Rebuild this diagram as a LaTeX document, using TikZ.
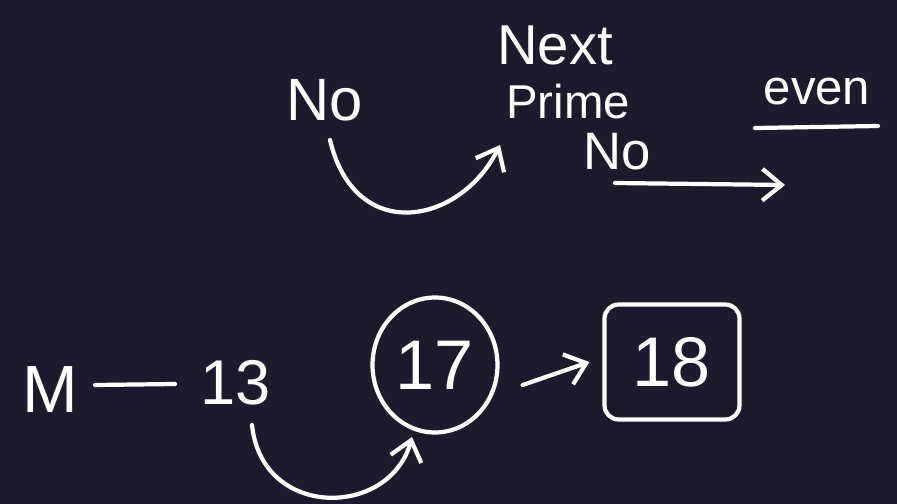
\documentclass[tikz,border=0pt]{standalone}
\usepackage{fontspec}
\setmainfont{Liberation Sans}
\usetikzlibrary{arrows.meta,shapes.geometric}
\definecolor{board}{RGB}{30,26,46}
\begin{document}
\begin{tikzpicture}[x=0.02cm,y=-0.02cm,
                    chalk/.style={white,line width=2.4pt,line cap=round},
                    word/.style={text=white,inner sep=0pt,font=\fontsize{34}{38}\selectfont},
                    tip/.style={-{Straight Barb[length=11pt,width=18pt]}}
                   ]
  \fill[board] (0,0) rectangle (897,504);
  \useasboundingbox (0,0) rectangle (897,504);
  % top row
  \node[word] (no) at (325,100) {No};
  \node[word,font=\fontsize{32}{36}\selectfont] (next) at (555,45) {Next};
  \node[word,font=\fontsize{27}{30}\selectfont] (prime) at (568,102) {Prime};
  \node[word,font=\fontsize{30}{34}\selectfont] (no2) at (617,152) {No};
  \node[word,font=\fontsize{28}{32}\selectfont] (even) at (817,92) {even};
  \coordinate (a1) at (330,140);
  \coordinate (a2) at (500,145);
  \coordinate (r1) at (615,183);
  \coordinate (r2) at (785,185);
  \draw[chalk,tip] (a1) .. controls (355,245) and (460,225) .. (a2);
  \draw[chalk,tip] (r1) -- (r2);
  \draw[chalk] (755,128) -- (878,126);
  % bottom row
  \node[word,font=\fontsize{38}{42}\selectfont] (m) at (50,390) {M};
  \node[word,font=\fontsize{36}{40}\selectfont] (n13) at (236,383) {13};
  \node[word,font=\fontsize{40}{44}\selectfont,draw=white,line width=2.4pt,ellipse,
        minimum width=2.5cm,minimum height=2.7cm] (c17) at (435,365) {17};
  \node[word,font=\fontsize{40}{44}\selectfont,draw=white,line width=2.4pt,rounded corners=8pt,
        minimum width=2.7cm,minimum height=2.3cm] (b18) at (672,362) {18};
  \coordinate (d1) at (95,385);
  \coordinate (d2) at (175,384);
  \draw[chalk] (d1) -- (d2);
  \path (c17.east) ++(23,20) coordinate (e1) (b18.west) ++(-13,0) coordinate (e2);
  \draw[chalk,tip] (e1) -- (e2);
  \coordinate (b1) at (252,425);
  \coordinate (b2) at (412,437);
  \draw[chalk,tip] (b1) .. controls (262,520) and (390,518) .. (b2);
\end{tikzpicture}
\end{document}
